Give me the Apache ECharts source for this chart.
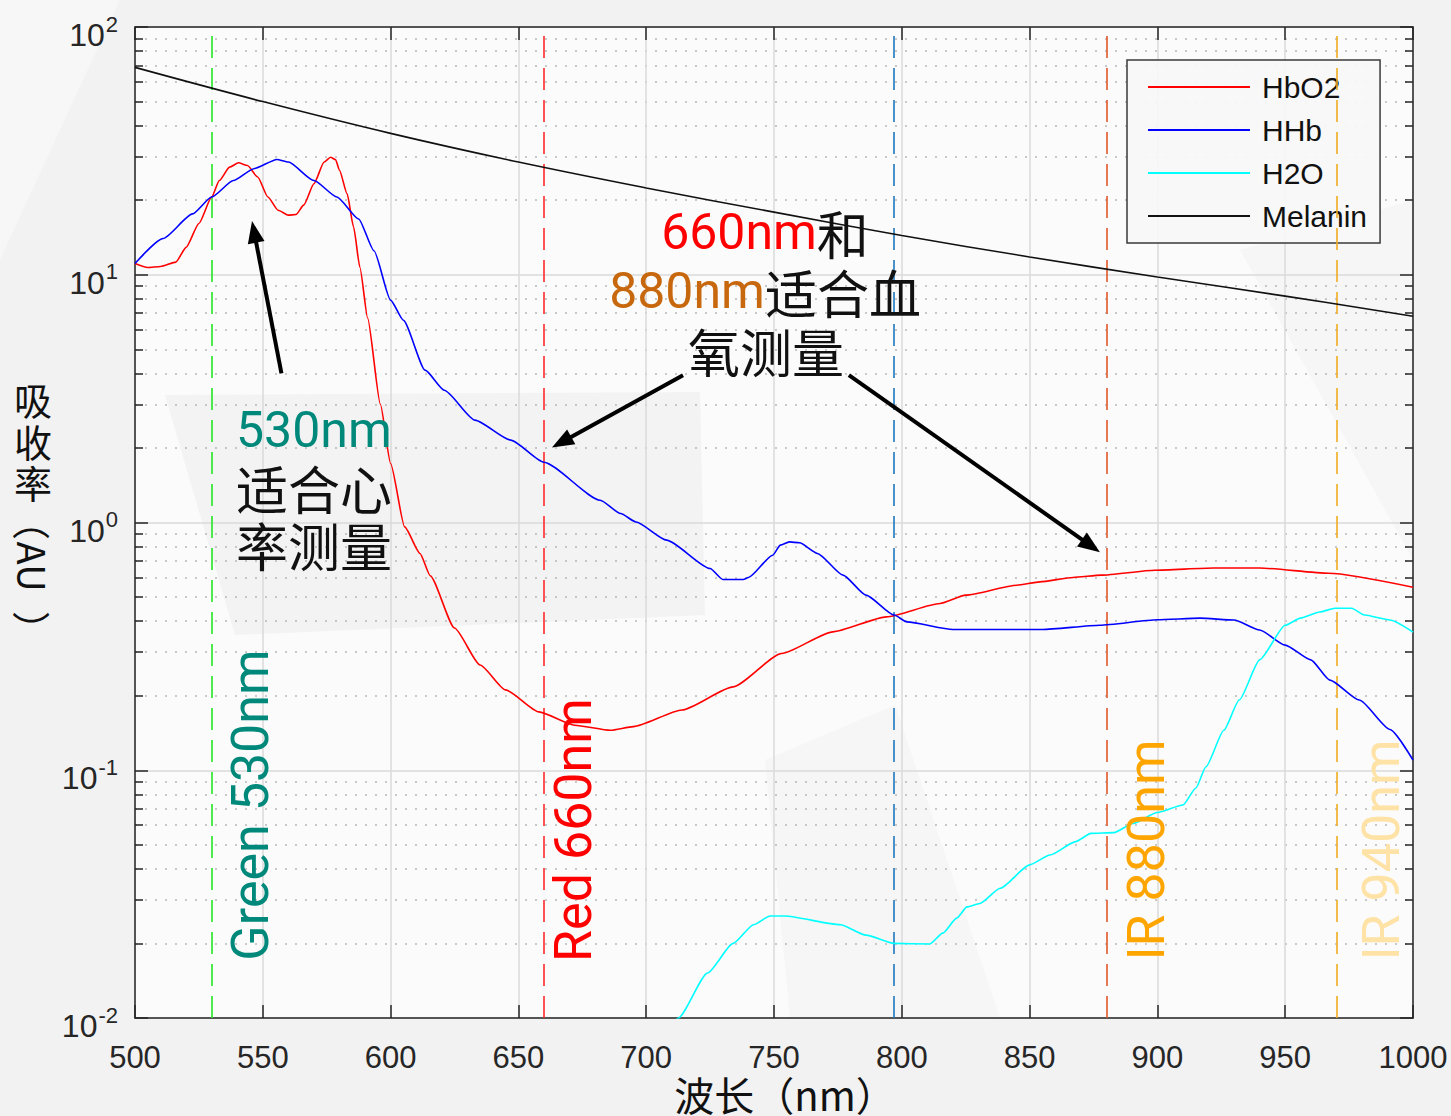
<!DOCTYPE html>
<html>
<head>
<meta charset="utf-8">
<script src="https://cdn.jsdelivr.net/npm/echarts@6/dist/echarts.min.js"></script>
<style>
  html, body { margin: 0; padding: 0; background: #f2f2f2; }
  #chart { width: 1451px; height: 1116px; }
</style>
</head>
<body>
<div id="chart"></div>
<script>
// Absorption spectra, [wavelength nm, absorbance AU]
const hbo2 = [
  [500, 11.1], [505, 10.7], [510, 10.8], [516, 11.25], [520, 12.9], [525, 16.1],
  [530, 20.6], [533, 24.0], [537, 27.2], [540.5, 28.3], [544, 27.6], [548, 24.8],
  [552, 20.6], [556, 18.2], [560, 17.4], [563, 17.5], [566, 19.1], [570, 23.3],
  [574, 28.5], [576.5, 29.8], [578.5, 29.1], [580, 26.4], [583, 21.2], [585.5, 15.6],
  [588, 10.7], [591, 6.7], [596, 3.0], [600, 1.73], [605.5, 0.96], [611.5, 0.75],
  [615.5, 0.61], [625, 0.375], [635, 0.266], [645, 0.211], [658, 0.172], [672, 0.152],
  [686, 0.145], [695, 0.15], [714, 0.175], [734, 0.217], [753, 0.296], [773, 0.362],
  [794, 0.416], [815, 0.471], [825, 0.509], [845, 0.558], [854, 0.576], [867, 0.6],
  [878, 0.613], [899, 0.642], [922, 0.655], [940, 0.655], [967, 0.624], [1000, 0.548]
];
const hhb = [
  [500, 11.1], [511, 14.0], [522.5, 17.6], [530, 20.6], [538.5, 24.0], [546.5, 26.8],
  [555.5, 29.2], [560, 28.5], [570, 24.0], [579, 20.6], [587.5, 16.8], [593.5, 12.5],
  [600, 7.9], [605, 6.55], [613.5, 4.12], [621, 3.42], [633, 2.59], [647, 2.15],
  [660, 1.75], [682, 1.23], [690, 1.087], [696, 1.005], [708, 0.849], [725, 0.652],
  [730, 0.589], [738, 0.589], [740, 0.6], [749.5, 0.738], [752.5, 0.81], [756, 0.835],
  [760, 0.828], [767, 0.75], [777, 0.613], [786, 0.509], [797, 0.423], [802, 0.397],
  [820, 0.37], [855, 0.37], [877.5, 0.385], [900, 0.405], [916.7, 0.411], [930, 0.404],
  [940, 0.368], [950, 0.32], [960, 0.279], [967.5, 0.231], [979, 0.192], [991, 0.146],
  [1000, 0.11]
];
const h2o = [
  [708, 0.0085], [712.6, 0.01], [724, 0.0152], [734, 0.020], [742, 0.0238], [748.5, 0.0258],
  [754, 0.0258], [776, 0.0238], [786, 0.0216], [797, 0.020], [811, 0.0199], [816, 0.022],
  [821.5, 0.0253], [825.5, 0.0281], [830.5, 0.029], [838.5, 0.0334], [850, 0.0415],
  [858, 0.0455], [868, 0.0515], [874, 0.0556], [883, 0.056], [890.5, 0.061], [900, 0.0675],
  [910, 0.0724], [915, 0.0846], [919, 0.1033], [926, 0.145], [932, 0.192], [940, 0.279],
  [950, 0.385], [956, 0.411], [963.5, 0.435], [969.5, 0.451], [976, 0.451], [981, 0.423],
  [991, 0.404], [1000, 0.361]
];
const melanin = [
  [500, 68.7], [550, 50.0], [600, 37.2], [650, 28.5], [700, 22.4], [750, 17.9],
  [800, 14.4], [850, 11.8], [900, 9.8], [950, 8.2], [1000, 6.8]
];
const seriesNames = ['HbO2', 'HHb', 'H2O', 'Melanin'];

// LED wavelength markers (nm)
const markerNm = [530, 660, 797, 880, 970];

// Annotation arrows: tail and head in data space [nm, AU]
const arrowTails = [[557.3, 4.0], [714.4, 3.93], [779.3, 3.93]];
const arrowHeads = [[546.6, 14.9], [666.9, 2.11], [874.0, 0.805]];

// Axis range
const xMin = 500, xMax = 1000, xStep = 50;
const yMin = 0.01, yMax = 100;

// ---- styling ----
const lineColors = ['#ff0000', '#0000ff', '#00ffff', '#111111'];
const markerColors = ['#22e622', '#ff2a2a', '#1f78c0', '#e0582a', '#f0ac1e'];
const axisColor = '#262626';
const latin = 'Liberation Sans, Arial, sans-serif';
const cjk = '"Noto Sans CJK SC", sans-serif';
const annoLatin = 'Roboto, "Noto Sans", sans-serif';
const teal = '#00897b';

const chart = echarts.init(document.getElementById('chart'), null, { renderer: 'svg' });

function powLabel(v) {
  const e = Math.round(Math.log10(v));
  return '{b|10}{s|' + e + '}';
}

const axisLineStyle = { color: axisColor, width: 1.5 };

// free-standing text placed by its centre
function label(text, x, y, font, fill, lineHeight, extra) {
  return Object.assign({
    type: 'text', z: 100, silent: true, x: x, y: y,
    style: { text: text, font: font, fill: fill, align: 'center', verticalAlign: 'middle', lineHeight: lineHeight }
  }, extra || {});
}
// free-standing text placed by its left edge
function leftLabel(text, x, y, font, fill, lineHeight) {
  return {
    type: 'text', z: 100, silent: true, x: x, y: y,
    style: { text: text, font: font, fill: fill, align: 'left', verticalAlign: 'middle', lineHeight: lineHeight }
  };
}

const cw = { rotation: -Math.PI / 2 };
const ccw = { rotation: Math.PI / 2 };

const option = {
  backgroundColor: '#f2f2f2',
  animation: false,
  grid: { left: 135, right: 38, top: 27, bottom: 98, containLabel: false, outerBoundsMode: 'none' },
  legend: {
    data: seriesNames,
    orient: 'vertical',
    left: 1127,
    top: 60,
    padding: [12, 13, 12, 21],
    itemWidth: 102,
    itemHeight: 2,
    itemGap: 13,
    icon: 'rect',
    backgroundColor: 'rgba(247,247,247,0.92)',
    borderColor: '#3a3a3a',
    borderWidth: 1.5,
    borderRadius: 0,
    textStyle: { fontFamily: latin, fontSize: 30, color: '#111', lineHeight: 30, padding: [0, 0, 0, 7] }
  },
  xAxis: [
    {
      type: 'value', min: xMin, max: xMax, interval: xStep, position: 'bottom',
      axisLine: { show: true, onZero: false, lineStyle: axisLineStyle },
      axisTick: { show: true, inside: true, length: 13, lineStyle: axisLineStyle },
      axisLabel: { fontFamily: latin, fontSize: 31, lineHeight: 31, color: axisColor, margin: 24, formatter: (v) => String(v) },
      splitLine: { show: true, lineStyle: { color: '#dadada', width: 1.5 } }
    },
    {
      type: 'value', min: xMin, max: xMax, interval: xStep, position: 'top',
      axisLine: { show: true, onZero: false, lineStyle: axisLineStyle },
      axisTick: { show: true, inside: true, length: 13, lineStyle: axisLineStyle },
      axisLabel: { show: false },
      splitLine: { show: false }
    }
  ],
  yAxis: [
    {
      type: 'log', logBase: 10, min: yMin, max: yMax, position: 'left',
      axisLine: { show: true, lineStyle: axisLineStyle },
      axisTick: { show: true, inside: true, length: 13, lineStyle: axisLineStyle },
      minorTick: { show: true, splitNumber: 9, length: 8, lineStyle: axisLineStyle },
      axisLabel: {
        margin: 17,
        formatter: powLabel,
        rich: {
          b: { fontFamily: latin, fontSize: 32, color: axisColor, padding: [16, 0, 0, 0], verticalAlign: 'bottom' },
          s: { fontFamily: latin, fontSize: 22, color: axisColor, padding: [0, 0, 16, 1], verticalAlign: 'bottom' }
        }
      },
      splitLine: { show: true, lineStyle: { color: '#dadada', width: 1.5 } },
      minorSplitLine: { show: true, lineStyle: { color: '#b8b8b8', width: 1.5, type: [2, 8] } }
    },
    {
      type: 'log', logBase: 10, min: yMin, max: yMax, position: 'right',
      axisLine: { show: true, lineStyle: axisLineStyle },
      axisTick: { show: true, inside: true, length: 13, lineStyle: axisLineStyle },
      minorTick: { show: true, splitNumber: 9, length: 8, lineStyle: axisLineStyle },
      axisLabel: { show: false },
      splitLine: { show: false }
    }
  ],
  series: [
    {
      name: seriesNames[0], type: 'line', data: hbo2, symbol: 'none', smooth: 0.2, smoothMonotone: 'x',
      lineStyle: { color: lineColors[0], width: 1.6 }, itemStyle: { color: lineColors[0] }, z: 5
    },
    {
      name: seriesNames[1], type: 'line', data: hhb, symbol: 'none', smooth: 0.2, smoothMonotone: 'x',
      lineStyle: { color: lineColors[1], width: 1.6 }, itemStyle: { color: lineColors[1] }, z: 5
    },
    {
      name: seriesNames[2], type: 'line', data: h2o, symbol: 'none', smooth: 0.2, smoothMonotone: 'x',
      lineStyle: { color: lineColors[2], width: 1.6 }, itemStyle: { color: lineColors[2] }, z: 5
    },
    {
      name: seriesNames[3], type: 'line', data: melanin, symbol: 'none', smooth: 0.4,
      lineStyle: { color: lineColors[3], width: 1.6 }, itemStyle: { color: lineColors[3] }, z: 5,
      markLine: {
        silent: true,
        symbol: ['none', 'none'],
        label: { show: false },
        animation: false,
        data: markerNm.map((nm, i) => ({
          xAxis: nm,
          lineStyle: { color: markerColors[i], width: 1.6, type: [22, 10] }
        }))
      }
    },
    {
      name: 'arrows', type: 'line', data: [], symbol: 'none', z: 6,
      markLine: {
        silent: true,
        symbol: ['none', 'triangle'],
        symbolSize: [17, 22],
        label: { show: false },
        animation: false,
        lineStyle: { color: '#000', width: 4, type: 'solid' },
        data: arrowTails.map((t, i) => [
          { coord: t, symbol: 'none' },
          { coord: arrowHeads[i], symbol: 'triangle', itemStyle: { color: '#000' } }
        ])
      }
    }
  ],
  graphic: [
    // faint backdrop shapes
    { type: 'polygon', z: -10, silent: true, shape: { points: [[135, 27], [1413, 27], [1413, 1018], [135, 1018]] }, style: { fill: '#fbfbfb' } },
    { type: 'polygon', z: -9, silent: true, shape: { points: [[165, 395], [700, 392], [705, 615], [235, 635]] }, style: { fill: '#f3f3f3' } },
    { type: 'polygon', z: -9, silent: true, shape: { points: [[0, 0], [120, 0], [0, 260]] }, style: { fill: '#f7f7f7' } },
    { type: 'polygon', z: -9, silent: true, shape: { points: [[765, 760], [895, 705], [1000, 1018], [790, 1018]] }, style: { fill: '#f6f6f6' } },
    { type: 'polygon', z: -9, silent: true, shape: { points: [[1240, 250], [1413, 200], [1413, 560]] }, style: { fill: '#f6f6f6' } },

    // y-axis title, written top to bottom
    label('吸', 33, 398, '38px ' + cjk, '#111', 40),
    label('收', 33, 440, '38px ' + cjk, '#111', 40),
    label('率', 33, 481, '38px ' + cjk, '#111', 40),
    label('（', 33, 521, '38px ' + cjk, '#111', 38, cw),
    label('A', 33, 553, '38px ' + cjk, '#111', 26, cw),
    label('U', 33, 578, '38px ' + cjk, '#111', 26, cw),
    label('）', 33, 630, '38px ' + cjk, '#111', 38, cw),

    // x-axis title
    label('波长（nm）', 785, 1094, '40px ' + cjk, '#111', 38),

    // vertical wavelength labels
    label('Green 530nm', 250, 805, '52px ' + annoLatin, teal, 52, ccw),
    label('Red 660nm', 573, 830, '52px ' + annoLatin, '#ff0000', 52, ccw),
    label('IR 880nm', 1146, 850, '52px ' + annoLatin, '#ffa500', 52, ccw),
    label('IR 940nm', 1381, 850, '52px ' + annoLatin, '#ffe2a6', 52, ccw),

    // annotation: green for heart rate
    leftLabel('530nm', 236, 430, '50px ' + annoLatin, teal, 50),
    leftLabel('适合心', 236, 487, '52px ' + cjk, '#111', 54),
    leftLabel('率测量', 236, 544, '52px ' + cjk, '#111', 54),

    // annotation: red + IR for SpO2
    {
      type: 'text', z: 100, silent: true, x: 765, y: 232,
      style: {
        text: '{r|660nm}{k|和}', align: 'center', verticalAlign: 'middle',
        rich: {
          r: { fontFamily: annoLatin, fontSize: 50, fill: '#ff0000', color: '#ff0000', lineHeight: 54 },
          k: { fontFamily: cjk, fontSize: 52, fill: '#111', color: '#111', lineHeight: 54 }
        }
      }
    },
    {
      type: 'text', z: 100, silent: true, x: 765, y: 291,
      style: {
        text: '{o|880nm}{k|适合血}', align: 'center', verticalAlign: 'middle',
        rich: {
          o: { fontFamily: annoLatin, fontSize: 50, fill: '#c8680e', color: '#c8680e', lineHeight: 54 },
          k: { fontFamily: cjk, fontSize: 52, fill: '#111', color: '#111', lineHeight: 54 }
        }
      }
    },
    label('氧测量', 766, 350, '52px ' + cjk, '#111', 54)
  ]
};

chart.setOption(option);
</script>
</body>
</html>
